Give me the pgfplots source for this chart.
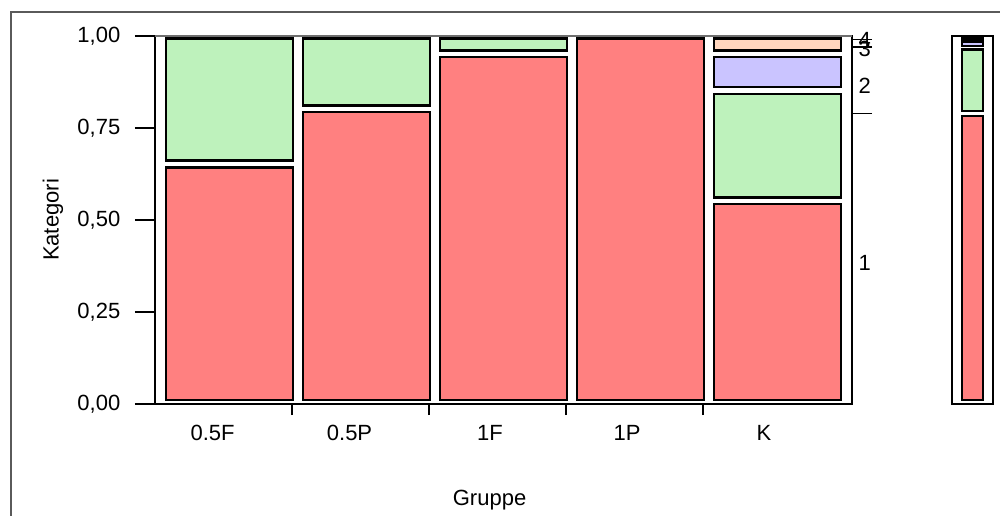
\documentclass[border=0pt]{standalone}
\usepackage{fontspec}
\setmainfont{Liberation Sans}
\usepackage{pgfplots}
\pgfplotsset{compat=1.18}
\definecolor{catA}{RGB}{255,128,128}
\definecolor{catB}{RGB}{190,242,188}
\definecolor{catC}{RGB}{202,196,255}
\definecolor{catD}{RGB}{255,214,190}
\definecolor{framegray}{RGB}{90,90,90}
\definecolor{topgray}{RGB}{110,110,110}
% one mosaic cell: colour, group index, lower and upper cumulative share
\newcommand{\mosaiccell}[4]{%
  \pgfmathsetmacro{\xa}{#2+0.080}%
  \pgfmathsetmacro{\xb}{#2+1.007}%
  \pgfmathsetmacro{\ya}{#3+0.011}%
  \pgfmathsetmacro{\yb}{#4-0.007}%
  \addplot[fill=#1, draw=black, line width=1.9pt, line join=miter, mark=none]
    coordinates {(\xa,\ya) (\xb,\ya) (\xb,\yb) (\xa,\yb)} -- cycle;
}
% one cell of the overall (marginal) bar: colour, lower, upper (drawn)
\newcommand{\overallcell}[3]{%
  \addplot[fill=#1, draw=black, line width=1.9pt, line join=miter, mark=none]
    coordinates {(0.244,#2) (0.756,#2) (0.756,#3) (0.244,#3)} -- cycle;
}
\pgfplotsset{
  overlay/.style={
    at={(116.25pt,83.25pt)}, anchor=south west,
    scale only axis, width=522.75pt, height=276pt,
    xmin=0, xmax=5.0876, ymin=0, ymax=1,
  },
}
\begin{document}
\begin{tikzpicture}
\path[use as bounding box] (0,0) rectangle (750pt,386.25pt);
\draw[framegray, line width=1.1pt] (8.25pt,-2pt) -- (8.25pt,377.25pt) -- (752pt,377.25pt);
\begin{axis}[
  name=main, overlay,
  axis line style={line width=1.6pt, black},
  xtick=\empty,
  ytick={0,0.25,0.5,0.75,1},
  yticklabels={{0,00},{0,25},{0,50},{0,75},{1,00}},
  ytick pos=left,
  tick align=outside,
  major tick length=15pt,
  every tick/.style={black, line width=1.3pt},
  extra x ticks={0.42,1.42,2.445,3.445,4.445},
  extra x tick labels={0.5F,0.5P,1F,1P,K},
  extra x tick style={major tick length=0pt, xticklabel style={yshift=-12.5pt}},
  tick label style={font=\fontsize{16.5}{19}\selectfont},
  yticklabel style={xshift=-7.5pt},
  label style={font=\fontsize{16.5}{19}\selectfont},
  xlabel={Gruppe},
  xlabel style={at={(axis description cs:0.48,-0.261)}, anchor=center},
  ylabel={Kategori},
  ylabel style={at={(axis description cs:-0.1463,0.5)}, anchor=center},
]
  % 0.5F
  \mosaiccell{catA}{0}{0}{0.65}
  \mosaiccell{catB}{0}{0.65}{1}
  % 0.5P
  \mosaiccell{catA}{1}{0}{0.80}
  \mosaiccell{catB}{1}{0.80}{1}
  % 1F
  \mosaiccell{catA}{2}{0}{0.95}
  \mosaiccell{catB}{2}{0.95}{1}
  % 1P
  \mosaiccell{catA}{3}{0}{1}
  % K
  \mosaiccell{catA}{4}{0}{0.55}
  \mosaiccell{catB}{4}{0.55}{0.85}
  \mosaiccell{catC}{4}{0.85}{0.95}
  \mosaiccell{catD}{4}{0.95}{1}
\end{axis}
\draw[topgray, line width=1.5pt] (main.north west) -- (main.north east);
% bottom tick marks between the groups
\begin{axis}[
  overlay,
  axis x line*=bottom, axis y line=none,
  x axis line style={draw=none},
  xtick={1,2,3,4}, xticklabels={,,,},
  tick align=outside,
  major tick length=8.25pt,
  every tick/.style={black, line width=1.3pt},
]
\end{axis}
% right-hand ticks and category labels
\begin{axis}[
  overlay,
  axis x line=none, axis y line*=right,
  y axis line style={draw=none},
  ytick={0.79,0.97,0.99}, yticklabels={,,},
  tick align=outside,
  major tick length=15pt,
  every tick/.style={black, line width=1.1pt},
  extra y ticks={0.383,0.864,0.965,0.988},
  extra y tick labels={1,2,3,4},
  extra y tick style={major tick length=0pt},
  tick label style={font=\fontsize{16.5}{19}\selectfont},
  yticklabel style={anchor=west, xshift=1.5pt},
]
\end{axis}
% overall (marginal) bar
\begin{axis}[
  at={(714pt,83.25pt)}, anchor=south west,
  scale only axis, width=30.75pt, height=276pt,
  xmin=0, xmax=1, ymin=0, ymax=1,
  axis line style={line width=1.6pt, black},
  xtick=\empty, ytick=\empty,
]
  \overallcell{catA}{0.011}{0.782}
  \overallcell{catB}{0.796}{0.963}
  \overallcell{catC}{0.973}{0.985}
  \overallcell{catD}{0.993}{0.997}
\end{axis}
\end{tikzpicture}
\end{document}
